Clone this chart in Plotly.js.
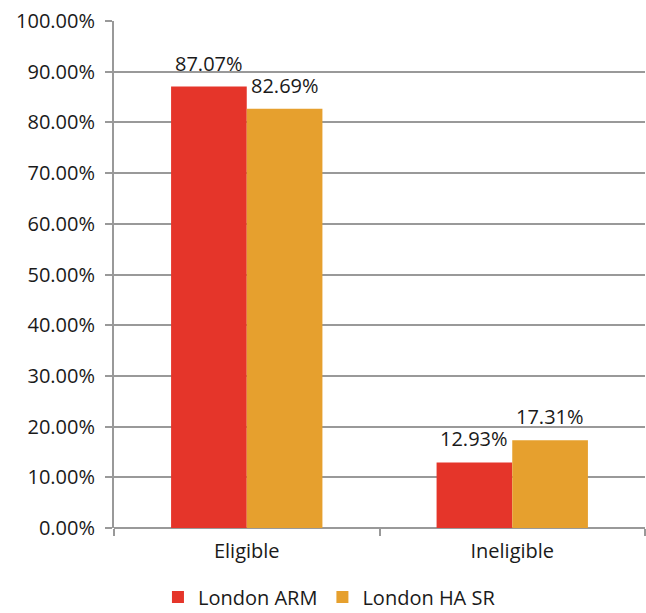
<!DOCTYPE html>
<html>
<head>
<meta charset="utf-8">
<script src="https://cdn.plot.ly/plotly-3.0.1.min.js"></script>
<style>html,body{margin:0;padding:0;background:#fff;}#chart{width:646px;height:613px;}</style>
</head>
<body>
<div id="chart"></div>
<script>
const categories = ["Eligible", "Ineligible"];
const seriesNames = ["London ARM", "London HA SR"];
const londonARM = [87.07, 12.93];
const londonHASR = [82.69, 17.31];
const yTickValues = [0, 10, 20, 30, 40, 50, 60, 70, 80, 90, 100];
const yTickLabels = yTickValues.map(v => v.toFixed(2) + "%");
const colors = ["#E5352A", "#E6A02E"];

const font = {family: "'Open Sans', 'Noto Sans', sans-serif", size: 20, color: "#1a1a1a"};

const seriesList = [londonARM, londonHASR];
const traces = seriesList.map((vals, i) => ({
  type: "bar",
  name: seriesNames[i],
  x: categories,
  y: vals,
  marker: {color: colors[i]},
  hoverinfo: "skip"
}));

// value labels placed on the bars via the axes' own scales
const offsets = [-38, 38];
const annotations = [];
seriesList.forEach((vals, i) => {
  vals.forEach((v, j) => {
    annotations.push({
      x: categories[j], y: v, xref: "x", yref: "y",
      text: v.toFixed(2) + "%",
      showarrow: false,
      xanchor: "center", yanchor: "bottom",
      xshift: offsets[i], yshift: 8,
      font: font
    });
  });
});

const layout = {
  width: 646, height: 613,
  margin: {l: 114, r: 1, t: 21, b: 85, autoexpand: false},
  paper_bgcolor: "#fff", plot_bgcolor: "#fff",
  font: font,
  barmode: "group",
  bargap: 0.43,
  bargroupgap: 0,
  annotations: annotations,
  showlegend: true,
  legend: {orientation: "h", xref: "container", x: 0.51, xanchor: "center", yref: "paper", y: -0.136, yanchor: "middle", font: font, itemwidth: 30, traceorder: "normal", tracegroupgap: 0},
  xaxis: {
    type: "category",
    tickson: "boundaries",
    tickangle: 0,
    ticks: "outside", ticklen: 7, tickwidth: 2, tickcolor: "#999",
    showline: false, showgrid: false, zeroline: false,
    tickfont: font, ticklabelstandoff: 9
  },
  yaxis: {
    range: [0, 100],
    tickmode: "array",
    tickvals: yTickValues,
    ticktext: yTickLabels,
    ticks: "outside", ticklen: 7, tickwidth: 2, tickcolor: "#999",
    showgrid: true, gridcolor: "#999", gridwidth: 2,
    zeroline: true, zerolinecolor: "#999", zerolinewidth: 2,
    showline: true, linecolor: "#999", linewidth: 2,
    tickfont: font, ticklabelstandoff: 6
  }
};

Plotly.newPlot("chart", traces, layout, {displayModeBar: false, staticPlot: true});
</script>
</body>
</html>
